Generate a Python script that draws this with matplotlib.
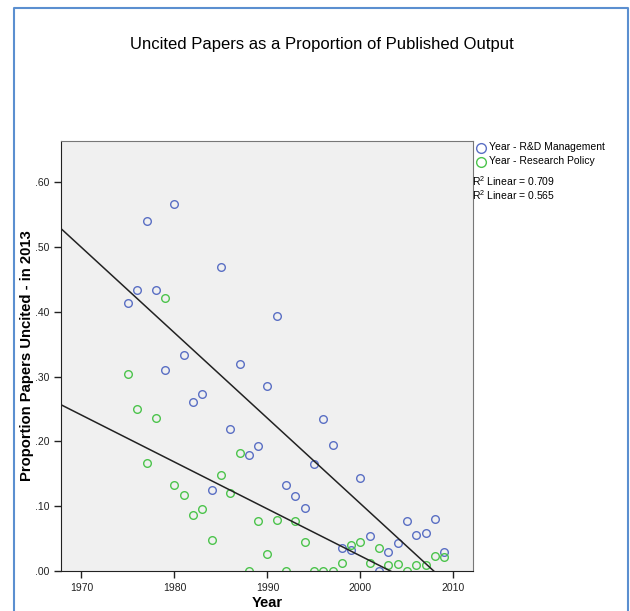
import numpy as np
import matplotlib
matplotlib.use("Agg")
import matplotlib.pyplot as plt
from matplotlib.lines import Line2D

plt.rcParams['font.family'] = ['Liberation Sans', 'DejaVu Sans']

# data
years = list(range(1975, 2010))
rd_management = [0.414, 0.434, 0.541, 0.434, 0.310, 0.566, 0.334, 0.261, 0.273, 0.125,
                 0.469, 0.219, 0.320, 0.179, 0.193, 0.286, 0.393, 0.133, 0.116, 0.097,
                 0.166, 0.234, 0.194, 0.036, 0.033, 0.143, 0.054, 0.000, 0.029, 0.044,
                 0.077, 0.056, 0.059, 0.081, 0.029]
research_policy = [0.304, 0.250, 0.167, 0.236, 0.421, 0.133, 0.118, 0.087, 0.096, 0.048,
                   0.148, 0.120, 0.182, 0.000, 0.077, 0.027, 0.079, 0.000, 0.077, 0.045,
                   0.000, 0.000, 0.000, 0.012, 0.040, 0.045, 0.012, 0.035, 0.010, 0.011,
                   0.000, 0.010, 0.010, 0.023, 0.022]
r2_labels = ["0.709", "0.565"]
yticks = [0.0, 0.1, 0.2, 0.3, 0.4, 0.5, 0.6]
xticks = [1970, 1980, 1990, 2000, 2010]

blue = '#5a6fc4'
green = '#4cc44c'

fig = plt.figure(figsize=(6.3, 6.11), dpi=100)
ax = fig.add_axes([61 / 630, 40 / 611, 412 / 630, 430 / 611])
ax.set_facecolor('#f0f0f0')

xlim = (1967.8, 2012.1)
ax.set_xlim(xlim)
ax.set_ylim(0, 0.664)

ax.plot(years, rd_management, 'o', mfc='none', mec=blue, ms=5.5, mew=1)
ax.plot(years, research_policy, 'o', mfc='none', mec=green, ms=5.5, mew=1)

# linear fit lines across the whole axis
xs = np.array(xlim)
for series in (rd_management, research_policy):
    k, b = np.polyfit(years, series, 1)
    ax.plot(xs, k * xs + b, color='#222222', lw=1.1)

ax.set_xticks(xticks)
ax.set_yticks(yticks)
ax.set_yticklabels(['.%02d' % round(t * 100) for t in yticks])
ax.tick_params(labelsize=7.5, length=5, width=1, colors='#222222')
for s in ('left', 'bottom'):
    ax.spines[s].set_color('#222222')
for s in ('top', 'right'):
    ax.spines[s].set_color('#777777')

ax.set_xlabel('Year', fontsize=10.5, fontweight='bold', labelpad=2)
ax.set_ylabel('Proportion Papers Uncited - in 2013', fontsize=10.7, fontweight='bold')
ax.yaxis.set_label_coords(-0.066, 0.5)

fig.text(322 / 630, 1 - 45 / 611, 'Uncited Papers as a Proportion of Published Output',
         ha='center', va='center', fontsize=12)

# legend to the right of the plot
leg_items = [(blue, 'Year - R&D Management', 147.5), (green, 'Year - Research Policy', 161.5)]
for col, label, ypx in leg_items:
    fig.add_artist(Line2D([481 / 630], [1 - ypx / 611], marker='o', mfc='none', mec=col,
                          ms=7, mew=1, transform=fig.transFigure))
    fig.text(489 / 630, 1 - ypx / 611, label, ha='left', va='center', fontsize=7.5)
for r2, ypx in zip(r2_labels, (181, 195)):
    fig.text(472 / 630, 1 - ypx / 611, '$\\mathregular{R^2}$ Linear = ' + r2,
             ha='left', va='center', fontsize=7.5)

# blue frame around the chart
frame = '#5b8fd0'
fig.add_artist(Line2D([14 / 630, 14 / 630, 628 / 630, 628 / 630],
                      [-0.1, 1 - 8 / 611, 1 - 8 / 611, -0.1],
                      color=frame, lw=1.5, transform=fig.transFigure))

fig.savefig('out.png', dpi=100)
